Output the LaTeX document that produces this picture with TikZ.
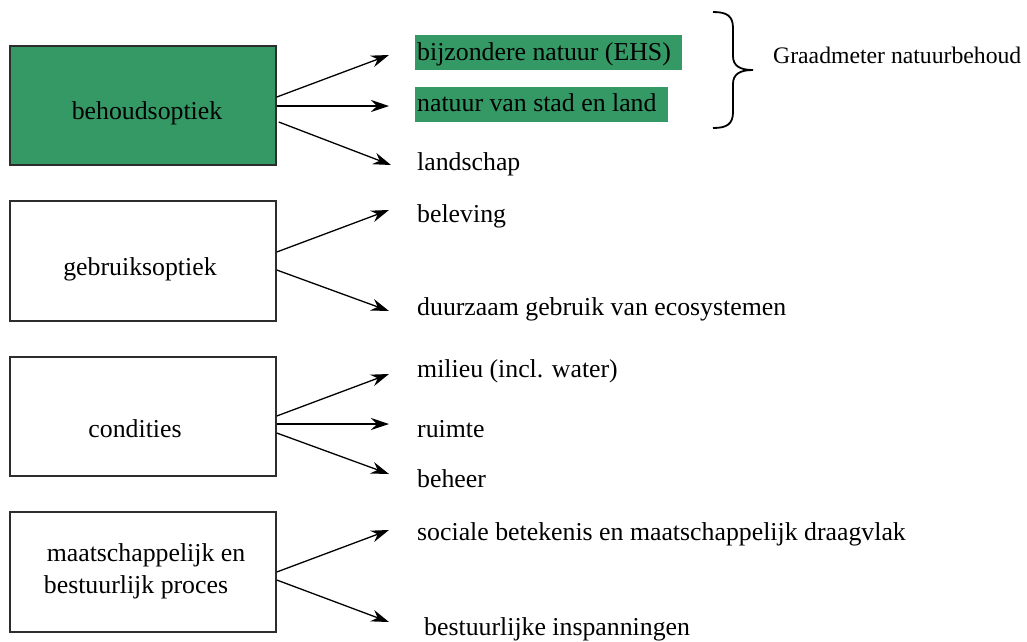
\documentclass[tikz,border=0pt]{standalone}
\usepackage{fontspec}
\setmainfont{Liberation Serif}
\usetikzlibrary{arrows.meta}
\definecolor{natgreen}{RGB}{53,153,102}
\definecolor{boxline}{RGB}{45,45,45}
\begin{document}
\begin{tikzpicture}[x=1pt,y=-1pt,
  box/.style={draw=boxline, line width=1.5pt, minimum width=266pt, inner sep=0pt},
  boxtxt/.style={anchor=base, inner sep=0pt, font=\fontsize{25.8}{31}\selectfont},
  lbl/.style={anchor=base west, inner sep=0pt, font=\fontsize{25.8}{31}\selectfont},
  arr/.style={line width=1.3pt, -{Stealth[length=18pt,width=12pt,inset=6pt]}},
  hl/.style={fill=natgreen},
]
\useasboundingbox (0,0) rectangle (1027,641);

% left-hand boxes
\node[box, fill=natgreen, minimum height=119pt] (b1) at (143,105.5) {};
\node[box, minimum height=120pt] (b2) at (143,261) {};
\node[box, minimum height=119pt] (b3) at (143,416.5) {};
\node[box, minimum height=120pt] (b4) at (143,572) {};

\node[boxtxt] (b1t) at (147,119) {behoudsoptiek};
\node[boxtxt] (b2t) at (140,275) {gebruiksoptiek};
\node[boxtxt] (b3t) at (135,437) {condities};
\node[boxtxt] (b4ta) at (146,561) {maatschappelijk en};
\node[boxtxt] (b4tb) at (136,593) {bestuurlijk proces};

% highlighted aspects
\fill[hl] (415,35) rectangle (682,70);
\fill[hl] (415,87) rectangle (668,122);

% right-hand labels
\node[lbl] (t11) at (417,60) {bijzondere natuur (EHS)};
\node[lbl] (t12) at (417,111) {natuur van stad en land};
\node[lbl] (t13) at (417,170) {landschap};
\node[lbl] (t21) at (417,222) {beleving};
\node[lbl] (t22) at (417,315) {duurzaam gebruik van ecosystemen};
\node[lbl] (t31) at (417,377) {milieu (incl. water)};
\node[lbl] (t32) at (417,437) {ruimte};
\node[lbl] (t33) at (417,487) {beheer};
\node[lbl] (t41) at (417,540) {sociale betekenis en maatschappelijk draagvlak};
\node[lbl] (t42) at (424,635) {bestuurlijke inspanningen};

% brace and its label
\draw[line width=1.8pt] (713,12) .. controls (727,12) and (733,16) .. (733,28)
  -- (733,56) .. controls (733,66) and (740,70) .. (753,70)
  .. controls (740,70) and (733,74) .. (733,84)
  -- (733,112) .. controls (733,124) and (727,128) .. (713,128);
\node[anchor=base west, inner sep=0pt, font=\fontsize{23.7}{28}\selectfont] (gr) at (773,63) {Graadmeter natuurbehoud};

% arrow end points
\coordinate (e11) at (389,55);
\coordinate (e12) at (389,106);
\coordinate (e13) at (391,165);
\coordinate (e21) at (389,210);
\coordinate (e22) at (389,311);
\coordinate (e31) at (389,374);
\coordinate (e32) at (389,424);
\coordinate (e33) at (389,474);
\coordinate (e41) at (389,530);
\coordinate (e42) at (389,622);

% arrows
\draw[arr] ([yshift=8.5pt]b1.east) -- (e11);
\draw[arr] ([yshift=-0.5pt]b1.east) -- (e12);
\draw[arr] ([xshift=2pt,yshift=-16.5pt]b1.east) -- (e13);
\draw[arr] ([yshift=9pt]b2.east) -- (e21);
\draw[arr] ([yshift=-9pt]b2.east) -- (e22);
\draw[arr] ([yshift=0.5pt]b3.east) -- (e31);
\draw[arr] ([yshift=-7.5pt]b3.east) -- (e32);
\draw[arr] ([yshift=-16.5pt]b3.east) -- (e33);
\draw[arr] (b4.east) -- (e41);
\draw[arr] ([yshift=-8pt]b4.east) -- (e42);
\end{tikzpicture}
\end{document}
